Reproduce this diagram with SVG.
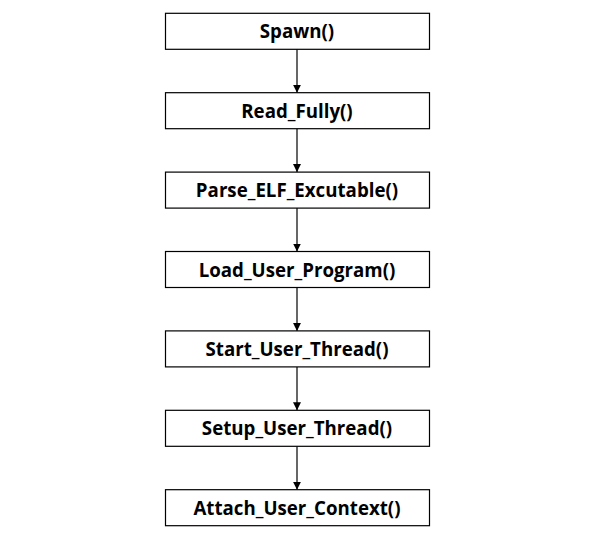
<svg xmlns="http://www.w3.org/2000/svg" width="607" height="540" viewBox="0 0 607 540">
<style>
.box{fill:#fff;stroke:#000;stroke-width:1.2}
.lbl{font-family:"Open Sans","Noto Sans",sans-serif;font-weight:bold;font-size:18.7px;text-anchor:middle;fill:#000}
.conn{stroke:#000;stroke-width:1.2;fill:none}
</style>
<defs>
<marker id="ah" markerWidth="8" markerHeight="8" refX="8" refY="4" orient="auto" markerUnits="userSpaceOnUse">
<path d="M0,0 L8,4 L0,8 Z" fill="#000"/>
</marker>
</defs>
<rect width="607" height="540" fill="#fff"/>
<g id="connectors">
<line class="conn" x1="297" y1="49.3" x2="297" y2="92.7" marker-end="url(#ah)"/>
<line class="conn" x1="297" y1="128.7" x2="297" y2="172.1" marker-end="url(#ah)"/>
<line class="conn" x1="297" y1="208.1" x2="297" y2="251.5" marker-end="url(#ah)"/>
<line class="conn" x1="297" y1="287.5" x2="297" y2="330.9" marker-end="url(#ah)"/>
<line class="conn" x1="297" y1="366.9" x2="297" y2="410.3" marker-end="url(#ah)"/>
<line class="conn" x1="297" y1="446.3" x2="297" y2="489.7" marker-end="url(#ah)"/>
</g>
<g id="n1"><rect class="box" x="165.5" y="13.3" width="264" height="36"/><text class="lbl" x="297" y="38.3">Spawn()</text></g>
<g id="n2"><rect class="box" x="165.5" y="92.7" width="264" height="36"/><text class="lbl" x="297" y="117.7">Read_Fully()</text></g>
<g id="n3"><rect class="box" x="165.5" y="172.1" width="264" height="36"/><text class="lbl" x="297" y="197.1">Parse_ELF_Excutable()</text></g>
<g id="n4"><rect class="box" x="165.5" y="251.5" width="264" height="36"/><text class="lbl" x="297" y="276.5">Load_User_Program()</text></g>
<g id="n5"><rect class="box" x="165.5" y="330.9" width="264" height="36"/><text class="lbl" x="297" y="355.9">Start_User_Thread()</text></g>
<g id="n6"><rect class="box" x="165.5" y="410.3" width="264" height="36"/><text class="lbl" x="297" y="435.3">Setup_User_Thread()</text></g>
<g id="n7"><rect class="box" x="165.5" y="489.7" width="264" height="36"/><text class="lbl" x="297" y="514.7">Attach_User_Context()</text></g>
</svg>
